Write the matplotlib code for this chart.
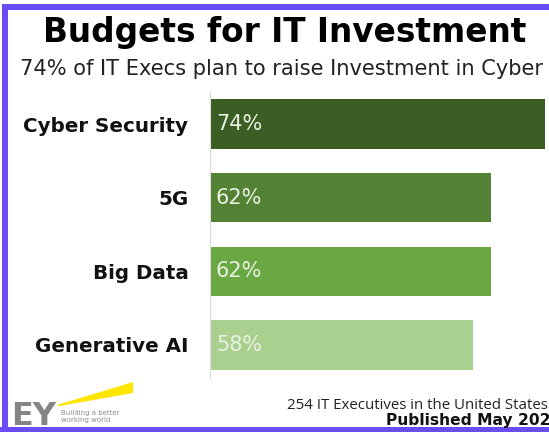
import matplotlib.pyplot as plt
from matplotlib.patches import Polygon, Rectangle

plt.rcParams['font.family'] = ['DejaVu Sans']

# данные
categories = ["Cyber Security", "5G", "Big Data", "Generative AI"]
values = [74, 62, 62, 58]
bar_colors = ["#3b5e24", "#548235", "#6aa843", "#a9d08e"]

W, H = 549, 432
fig = plt.figure(figsize=(W / 100, H / 100), dpi=100)
fig.patch.set_facecolor("white")


# перевод пикселей в координаты фигуры
def fx(px):
    return px / W


def fy(py):
    return 1 - py / H


# оси с барами
ax = fig.add_axes([fx(210), fy(378), (550 - 210) / W, (378 - 91) / H])
pos = list(range(len(categories)))
ax.barh(pos, values, height=0.67, color=bar_colors)
ax.set_xlim(0, 75)
ax.set_ylim(3.45, -0.45)
ax.set_yticks(pos)
ax.set_yticklabels(categories, fontsize=14.3, fontweight="bold", color="#111111")
ax.tick_params(axis="y", length=0, pad=15.5)
ax.set_xticks([])
for s in ["top", "right", "bottom"]:
    ax.spines[s].set_visible(False)
ax.spines["left"].set_color("#dcdcdc")
ax.spines["left"].set_linewidth(0.8)

for p, v in zip(pos, values):
    ax.text(1.3, p, f"{v}%", va="center", ha="left", fontsize=15, color="#e9f1e0")

# заголовки
fig.text(fx(285), fy(42), "Budgets for IT Investment", ha="center", va="baseline",
         fontsize=23.6, fontweight="bold", color="black")
fig.text(fx(282), fy(75), "74% of IT Execs plan to raise Investment in Cyber", ha="center",
         va="baseline", fontsize=15.1, color="#222222")

# подвал
fig.text(fx(287), fy(409), "254 IT Executives in the United States", ha="left", va="baseline",
         fontsize=10.8, color="#222222", family=["Open Sans", "DejaVu Sans"])
fig.text(fx(386), fy(425), "Published May 2023", ha="left", va="baseline",
         fontsize=11.2, fontweight="bold", color="#111111")

# логотип EY
fig.text(fx(11), fy(425), "EY", ha="left", va="baseline", fontsize=23, fontweight="bold",
         color="#858585")
beam = Polygon([[fx(57), fy(405)], [fx(133), fy(382)], [fx(133), fy(393)], [fx(60), fy(406)]],
               closed=True, transform=fig.transFigure, color="#ffe600", lw=0)
fig.add_artist(beam)
fig.text(fx(61), fy(415), "Building a better", ha="left", va="baseline", fontsize=5,
         color="#8c8c8c")
fig.text(fx(61), fy(422), "working world", ha="left", va="baseline", fontsize=5,
         color="#8c8c8c")

# фиолетовая рамка
border = "#6b4cf2"
fig.add_artist(Rectangle((fx(2), 0), 6 / W, fy(4), transform=fig.transFigure, color=border, lw=0))
fig.add_artist(Rectangle((fx(2), fy(10)), 1, 6 / H, transform=fig.transFigure, color=border, lw=0))
fig.add_artist(Rectangle((0, 0), 1, 5 / H, transform=fig.transFigure, color=border, lw=0))

plt.savefig("out.png", dpi=100)
